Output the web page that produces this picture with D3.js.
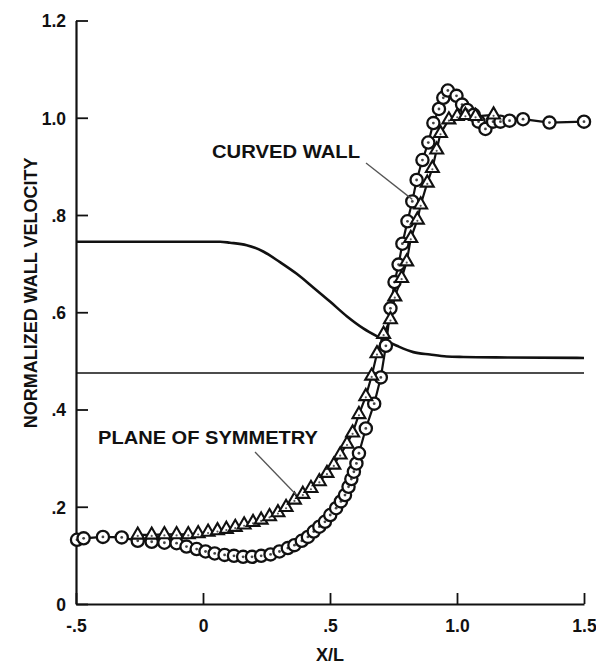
<!DOCTYPE html>
<html>
<head>
<meta charset="utf-8">
<script src="https://cdn.jsdelivr.net/npm/d3@7"></script>
<style>
  html, body { margin: 0; padding: 0; background: #fff; }
  svg { display: block; }
  text { font-family: "Liberation Sans", Arial, Helvetica, sans-serif; font-weight: bold; fill: #111; }
</style>
</head>
<body>
<svg id="chart" width="596" height="667"></svg>
<script>
// Axis ticks and labels
const xTicks = [-0.5, 0, 0.5, 1.0, 1.5];
const xTickLabels = ["-.5", "0", ".5", "1.0", "1.5"];
const yTicks = [0, 0.2, 0.4, 0.6, 0.8, 1.0, 1.2];
const yTickLabels = ["0", ".2", ".4", ".6", ".8", "1.0", "1.2"];

// Curved wall measurements (circles): [X/L, velocity]
const curvedWall = [
  [-0.496,0.132],[-0.470,0.135],[-0.394,0.138],[-0.320,0.137],[-0.257,0.130],[-0.202,0.128],
  [-0.152,0.126],[-0.104,0.125],[-0.065,0.118],[-0.025,0.113],[0.010,0.108],[0.046,0.104],
  [0.085,0.101],[0.122,0.099],[0.158,0.097],[0.193,0.097],[0.229,0.099],[0.266,0.102],
  [0.301,0.108],[0.334,0.115],[0.360,0.121],[0.389,0.130],[0.413,0.138],[0.436,0.149],
  [0.458,0.159],[0.480,0.169],[0.501,0.183],[0.524,0.197],[0.543,0.211],[0.559,0.224],
  [0.573,0.241],[0.584,0.257],[0.594,0.272],[0.604,0.289],[0.614,0.310],[0.641,0.361],
  [0.674,0.412],[0.700,0.466],[0.720,0.531],[0.738,0.608],[0.754,0.662],[0.770,0.698],
  [0.785,0.741],[0.805,0.787],[0.824,0.828],[0.841,0.872],[0.864,0.913],[0.887,0.949],
  [0.907,0.989],[0.929,1.018],[0.946,1.041],[0.964,1.056],[0.998,1.045],[1.020,1.027],
  [1.040,1.016],[1.066,1.006],[1.085,0.992],[1.112,0.977],[1.142,0.992],[1.171,0.992],
  [1.207,0.994],[1.260,0.997],[1.364,0.990],[1.500,0.992]
];

// Plane of symmetry measurements (triangles): [X/L, velocity]
const planeOfSymmetry = [
  [-0.257,0.142],[-0.202,0.142],[-0.152,0.143],[-0.104,0.143],[-0.058,0.143],[-0.019,0.145],
  [0.020,0.148],[0.057,0.151],[0.092,0.154],[0.127,0.158],[0.162,0.163],[0.197,0.168],
  [0.229,0.173],[0.262,0.180],[0.295,0.188],[0.327,0.199],[0.360,0.214],[0.393,0.226],
  [0.425,0.238],[0.458,0.252],[0.488,0.269],[0.515,0.286],[0.540,0.307],[0.567,0.329],
  [0.589,0.352],[0.614,0.390],[0.641,0.427],[0.664,0.469],[0.685,0.515],[0.711,0.555],
  [0.738,0.585],[0.755,0.632],[0.782,0.670],[0.802,0.704],[0.818,0.752],[0.844,0.790],
  [0.857,0.821],[0.883,0.866],[0.903,0.896],[0.920,0.934],[0.935,0.968],[0.968,0.996],
  [1.001,1.003],[1.033,1.005],[1.073,1.003],[1.144,1.006]
];

// Smooth reference curve (upper solid line)
const edgeCurve = [
  [-0.5,0.745],[0.0,0.745],[0.067,0.745],[0.106,0.743],[0.172,0.738],[0.237,0.725],
  [0.303,0.703],[0.369,0.679],[0.434,0.651],[0.5,0.622],[0.566,0.592],[0.631,0.567],
  [0.684,0.551],[0.763,0.531],[0.828,0.518],[0.894,0.513],[0.959,0.509],[1.025,0.508],
  [1.2,0.507],[1.5,0.506]
];

// Constant reference level (thin line)
const baseLevel = [[-0.5,0.475],[1.5,0.475]];

const svg = d3.select("#chart");

const x = d3.scaleLinear().domain([-0.5, 1.5]).range([76, 584]);
const y = d3.scaleLinear().domain([0, 1.2]).range([604, 20.5]);

// Axes with inward ticks
const xAxis = d3.axisBottom(x)
  .tickValues(xTicks)
  .tickFormat((d, i) => xTickLabels[i])
  .tickSizeInner(-11).tickSizeOuter(0).tickPadding(16);
const yAxis = d3.axisLeft(y)
  .tickValues(yTicks)
  .tickFormat((d, i) => yTickLabels[i])
  .tickSizeInner(-12).tickSizeOuter(0).tickPadding(10);

const gx = svg.append("g").attr("transform", `translate(0,${y(0)})`).call(xAxis);
const gy = svg.append("g").attr("transform", `translate(${x(-0.5)},0)`).call(yAxis);

[gx, gy].forEach(g => {
  g.select(".domain").attr("stroke", "#111").attr("stroke-width", 2.2);
  g.selectAll(".tick line").attr("stroke", "#111").attr("stroke-width", 1.8);
  g.selectAll(".tick text")
    .attr("font-family", "'Liberation Sans', Arial, sans-serif")
    .attr("font-weight", "bold").attr("font-size", 17.5).attr("fill", "#111");
});
gx.selectAll(".tick text").attr("dy", "0.71em");
gy.selectAll(".tick text").attr("dy", "0.36em");

// Axis titles
svg.append("text")
  .attr("x", x(0.5)).attr("y", 661)
  .attr("text-anchor", "middle").attr("font-size", 18)
  .text("X/L");
svg.append("text")
  .attr("transform", `translate(37,${y(0.64)}) rotate(-90)`)
  .attr("text-anchor", "middle").attr("font-size", 18)
  .text("NORMALIZED WALL VELOCITY");

// Reference lines
const line = d3.line().x(d => x(d[0])).y(d => y(d[1]));
const smooth = d3.line().x(d => x(d[0])).y(d => y(d[1])).curve(d3.curveMonotoneX);

svg.append("path").datum(baseLevel).attr("d", line)
  .attr("fill", "none").attr("stroke", "#111").attr("stroke-width", 1.6);
svg.append("path").datum(edgeCurve).attr("d", smooth)
  .attr("fill", "none").attr("stroke", "#111").attr("stroke-width", 2.6);

// Connecting lines through the measured points
svg.append("path").datum(curvedWall).attr("d", line)
  .attr("fill", "none").attr("stroke", "#111").attr("stroke-width", 2.2);
svg.append("path").datum(planeOfSymmetry).attr("d", line)
  .attr("fill", "none").attr("stroke", "#111").attr("stroke-width", 2.2);

// Circle markers with centre dot
const circ = svg.append("g").selectAll("g").data(curvedWall).join("g")
  .attr("transform", d => `translate(${x(d[0])},${y(d[1])})`);
circ.append("circle").attr("r", 6.1)
  .attr("fill", "#fff").attr("stroke", "#111").attr("stroke-width", 2.3);
circ.append("circle").attr("r", 1.4).attr("fill", "#444");

// Triangle markers with centre dot
const tri = d3.symbol().type(d3.symbolTriangle).size(72);
const trg = svg.append("g").selectAll("g").data(planeOfSymmetry).join("g")
  .attr("transform", d => `translate(${x(d[0])},${y(d[1])})`);
trg.append("path").attr("d", tri)
  .attr("fill", "#fff").attr("stroke", "#111").attr("stroke-width", 2.1);
trg.append("circle").attr("cy", 1).attr("r", 1.1).attr("fill", "#555");

// Annotations with leader lines
svg.append("text").attr("x", 212).attr("y", 158).attr("font-size", 18)
  .attr("textLength", 148).attr("lengthAdjust", "spacingAndGlyphs")
  .text("CURVED WALL");
svg.append("line")
  .attr("x1", 366).attr("y1", 163).attr("x2", x(0.824)).attr("y2", y(0.828) - 2)
  .attr("stroke", "#555").attr("stroke-width", 1.3);

svg.append("text").attr("x", 98).attr("y", 444).attr("font-size", 17.5)
  .attr("textLength", 220).attr("lengthAdjust", "spacingAndGlyphs")
  .text("PLANE OF SYMMETRY");
svg.append("line")
  .attr("x1", 255).attr("y1", 452).attr("x2", x(0.360) + 2).attr("y2", y(0.214) - 5)
  .attr("stroke", "#555").attr("stroke-width", 1.3);
</script>
</body>
</html>
